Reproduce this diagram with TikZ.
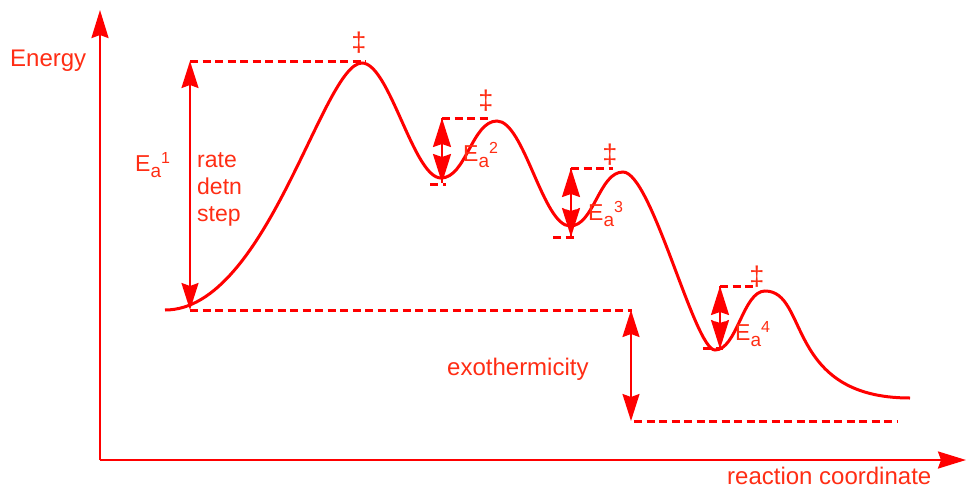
\documentclass[tikz,border=0pt]{standalone}
\usepackage{fontspec}
\setmainfont{Liberation Sans}
\usetikzlibrary{arrows.meta}
\definecolor{lred}{RGB}{255,0,0}
\definecolor{tred}{RGB}{255,45,20}
\newcommand{\eaLabel}[1]{E\raisebox{-6pt}{\fontsize{19}{19}\selectfont a}\raisebox{8pt}{\fontsize{16}{16}\selectfont #1}}
\begin{document}
\begin{tikzpicture}[x=1pt,y=-1pt,
  curve/.style={lred, line width=3pt},
  dline/.style={lred, line width=3pt, dash pattern=on 8pt off 4.5pt},
  dbl/.style={lred, line width=2pt, {Stealth[length=27pt,width=17pt,inset=3pt]}-{Stealth[length=27pt,width=17pt,inset=3pt]}},
  sdbl/.style={lred, line width=2pt, {Stealth[length=29pt,width=18pt,inset=3pt]}-{Stealth[length=29pt,width=18pt,inset=3pt]}},
  shaft/.style={lred, line width=2pt},
  wmark/.style={white, line width=1.3pt, {Straight Barb[length=3pt,width=6pt]}-{Straight Barb[length=3pt,width=6pt]}},
  axis/.style={lred, line width=2.5pt, -{Stealth[length=28pt,width=17pt,inset=3pt]}},
  lbl/.style={text=tred, font=\fontsize{23}{27}\selectfont, inner sep=0pt},
  dag/.style={text=tred, font=\fontsize{27}{29}\selectfont, inner sep=0pt}]
\useasboundingbox (0,0) rectangle (967,488);

% axes
\coordinate (O) at (100,460);
\coordinate (ytip) at (100,10);
\coordinate (xtip) at (966,460);
\draw[axis] (O) -- (ytip);
\draw[axis] (O) -- (xtip);
\node[lbl, font=\fontsize{24}{28}\selectfont, anchor=base west] (energy) at (10,66) {Energy};
\node[lbl, font=\fontsize{24}{28}\selectfont, anchor=base west] (rc) at (727,484) {reaction coordinate};

% energy profile
\draw[curve] (165,310) .. controls (267,310) and (323,63) .. (362,63)
  .. controls (389.5,63) and (413.5,178) .. (441,178)
  .. controls (466,178) and (472,121) .. (497,121)
  .. controls (524,121) and (543,226) .. (570,226)
  .. controls (594,226) and (599,172) .. (623,172)
  .. controls (651.5,172) and (694.5,350) .. (715,350)
  .. controls (737,350) and (743,291) .. (765,291)
  .. controls (809,291) and (785,398) .. (910,398);

% Ea1
\coordinate (e1t) at (190,61);
\coordinate (e1b) at (190,310);
\coordinate (ts1) at (366,61);
\coordinate (baseR) at (632,310);
\draw[dline] (e1t) -- (ts1);
\draw[dline] (e1b) -- (baseR);
\draw[dbl] (e1t) -- (e1b);
\node[lbl, anchor=base west] (ea1) at (135,171) {\eaLabel{1}};
\node[lbl, anchor=base west] (rate) at (197,167) {rate};
\node[lbl, anchor=base west] (detn) at (197,194) {detn};
\node[lbl, anchor=base west] (step) at (197,221) {step};
\node[dag] (dg1) at (359,43) {‡};

% Ea2
\coordinate (e2t) at (442,118);
\coordinate (e2b) at (442,183);
\coordinate (e2tr) at (488,118);
\coordinate (e2bl) at (430,184);
\coordinate (e2br) at (446,184);
\coordinate (e2ml) at (433,150);
\coordinate (e2mr) at (451,150);
\draw[dline] (e2t) -- (e2tr);
\draw[dline] (e2bl) -- (e2br);
\draw[sdbl] (e2t) -- (e2b);
\draw[wmark] (e2ml) -- (e2mr);
\draw[shaft] (e2t) -- (e2b);
\node[lbl, anchor=base west] (ea2) at (463,161) {\eaLabel{2}};
\node[dag] (dg2) at (486,101) {‡};

% Ea3
\coordinate (e3t) at (571,168);
\coordinate (e3b) at (571,237);
\coordinate (e3tr) at (613,168);
\coordinate (e3bl) at (553,237);
\coordinate (e3br) at (577,237);
\coordinate (e3ml) at (562,206);
\coordinate (e3mr) at (580,206);
\draw[dline] (e3t) -- (e3tr);
\draw[dline] (e3bl) -- (e3br);
\draw[sdbl] (e3t) -- (e3b);
\draw[wmark] (e3ml) -- (e3mr);
\draw[shaft] (e3t) -- (e3b);
\node[lbl, anchor=base west] (ea3) at (588,220) {\eaLabel{3}};
\node[dag] (dg3) at (610,155) {‡};

% Ea4
\coordinate (e4t) at (720,286);
\coordinate (e4b) at (720,349);
\coordinate (e4tr) at (755,286);
\coordinate (e4bl) at (703,348);
\coordinate (e4br) at (723,348);
\coordinate (e4ml) at (711,318);
\coordinate (e4mr) at (729,318);
\draw[dline] (e4t) -- (e4tr);
\draw[dline] (e4bl) -- (e4br);
\draw[sdbl] (e4t) -- (e4b);
\draw[wmark] (e4ml) -- (e4mr);
\draw[shaft] (e4t) -- (e4b);
\node[lbl, anchor=base west] (ea4) at (735,340) {\eaLabel{4}};
\node[dag] (dg4) at (757,277) {‡};

% exothermicity
\coordinate (ext) at (631,310);
\coordinate (exb) at (631,421);
\coordinate (exbl) at (634,421);
\coordinate (exbr) at (898,421);
\draw[dline] (exbl) -- (exbr);
\draw[dbl] (ext) -- (exb);
\node[lbl, font=\fontsize{24}{28}\selectfont, anchor=base west] (exo) at (447,375) {exothermicity};
\end{tikzpicture}
\end{document}
